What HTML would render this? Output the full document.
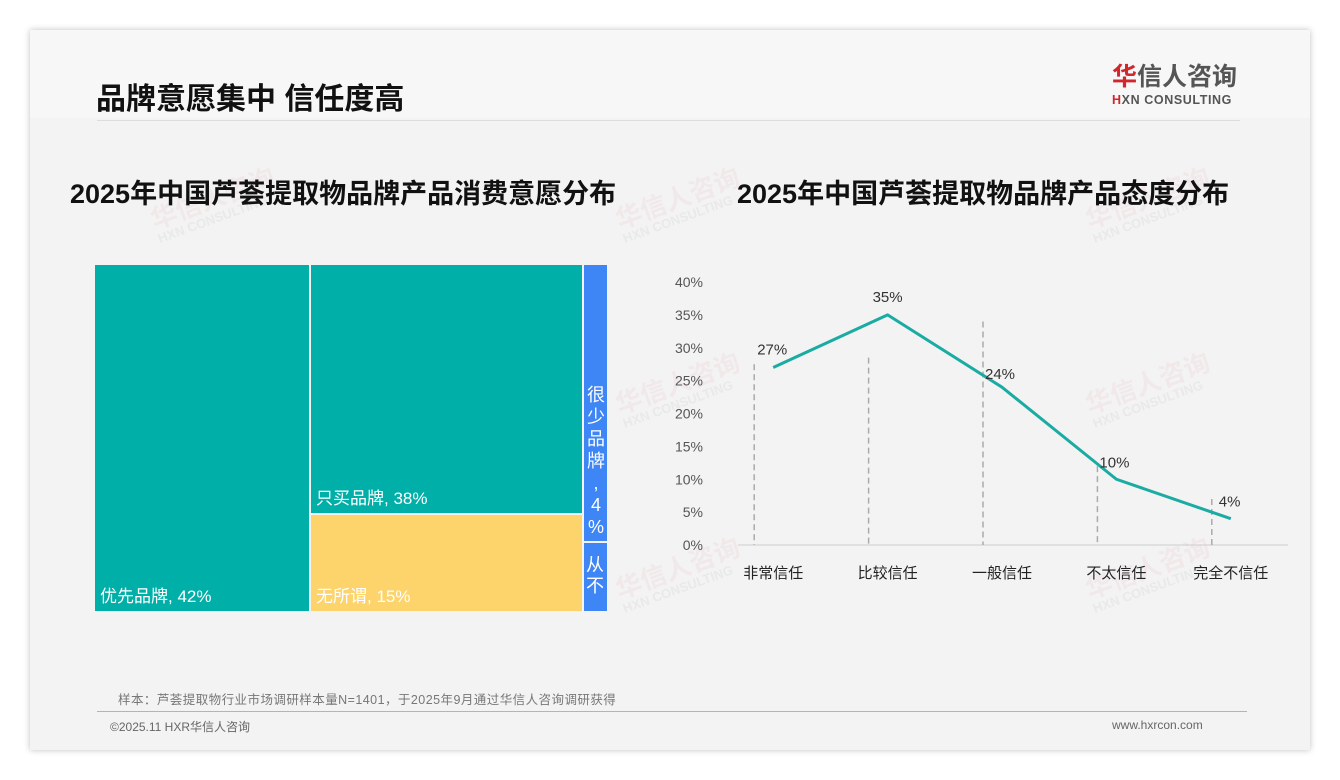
<!DOCTYPE html>
<html><head><meta charset="utf-8"><style>
body{margin:0;width:1340px;height:780px;background:#fff;font-family:"Liberation Sans","Noto Sans CJK SC",sans-serif;position:relative;overflow:hidden}
.card{position:absolute;left:30px;top:30px;width:1280px;height:720px;background:#f3f3f3;box-shadow:0 0 6px rgba(0,0,0,.25)}
.abs{position:absolute}
.wm{position:absolute;color:rgba(220,120,120,.08);font-size:26px;font-weight:bold;transform:rotate(-20deg);white-space:nowrap;line-height:1}
.wm small{display:block;font-size:13px;color:rgba(150,150,150,.10)}
</style></head><body>
<div class="card">
 <div class="abs" style="left:0;top:0;width:1280px;height:88px;background:#f7f7f7"></div>
</div>
<div class="abs" style="left:96px;top:74px;font-size:30px;font-weight:bold;color:#111">品牌意愿集中 信任度高</div>
<div class="abs" style="left:97px;top:120px;width:1143px;height:1px;background:#ddd"></div>
<div class="abs" style="left:1112px;top:62px;text-align:left">
 <div style="font-size:25px;font-weight:bold;color:#555;letter-spacing:0px;line-height:30px"><span style="color:#d0262c">华</span>信人咨询</div>
 <div style="font-size:12.5px;font-weight:bold;color:#555;line-height:16px;letter-spacing:0.6px"><span style="color:#d0262c">H</span>XN CONSULTING</div>
</div>

<div class="wm" style="left:150px;top:185px">华信人咨询<small>HXN CONSULTING</small></div>
<div class="wm" style="left:615px;top:185px">华信人咨询<small>HXN CONSULTING</small></div>
<div class="wm" style="left:1085px;top:185px">华信人咨询<small>HXN CONSULTING</small></div>
<div class="wm" style="left:615px;top:370px">华信人咨询<small>HXN CONSULTING</small></div>
<div class="wm" style="left:1085px;top:370px">华信人咨询<small>HXN CONSULTING</small></div>
<div class="wm" style="left:615px;top:555px">华信人咨询<small>HXN CONSULTING</small></div>
<div class="wm" style="left:1085px;top:555px">华信人咨询<small>HXN CONSULTING</small></div>

<div class="abs" style="left:70px;top:172px;font-size:27px;font-weight:bold;color:#111">2025年中国芦荟提取物品牌产品消费意愿分布</div>
<div class="abs" style="left:737px;top:172px;font-size:27px;font-weight:bold;color:#111">2025年中国芦荟提取物品牌产品态度分布</div>

<div>
 <div class="abs" style="left:95px;top:265px;width:214px;height:346px;background:#00b0a8"><span style="position:absolute;left:5px;bottom:4px;color:#fff;font-size:17px">优先品牌, 42%</span></div>
 <div class="abs" style="left:311px;top:265px;width:271px;height:248px;background:#00b0a8"><span style="position:absolute;left:5px;bottom:4px;color:#fff;font-size:17px">只买品牌, 38%</span></div>
 <div class="abs" style="left:311px;top:515px;width:271px;height:96px;background:#fdd36b"><span style="position:absolute;left:5px;bottom:4px;color:#fff;font-size:17px">无所谓, 15%</span></div>
 <div class="abs" style="left:584px;top:265px;width:23px;height:276px;background:#3e86f5"><span style="position:absolute;left:2px;bottom:3px;color:#fff;font-size:18px;line-height:22px;width:20px;text-align:center">很<br>少<br>品<br>牌<br>,<br>4<br>%</span></div>
 <div class="abs" style="left:584px;top:543px;width:23px;height:68px;background:#3e86f5"><span style="position:absolute;left:2px;top:12px;color:#fff;font-size:18px;line-height:21px">从<br>不</span></div>
</div>

<svg class="abs" style="left:0;top:0" width="1340" height="780" font-family="Liberation Sans, Noto Sans CJK SC, sans-serif">
<g id="lc"></g>
</svg>

<div class="abs" style="left:118px;top:689px;font-size:12.5px;color:#777;letter-spacing:0.45px">样本：芦荟提取物行业市场调研样本量N=1401，于2025年9月通过华信人咨询调研获得</div>
<div class="abs" style="left:97px;top:711px;width:1150px;height:1px;background:#9bb8de"></div>
<div class="abs" style="left:110px;top:718px;font-size:12px;color:#666">©2025.11 HXR华信人咨询</div>
<div class="abs" style="left:1112px;top:718px;font-size:12px;color:#666">www.hxrcon.com</div>

<script>
const categories=["非常信任","比较信任","一般信任","不太信任","完全不信任"];
const values=[27,35,24,10,4];
const yTicks=[0,5,10,15,20,25,30,35,40];
const dashTops=[27.5,28.5,34,12,7];
const NS="http://www.w3.org/2000/svg";
const g=document.getElementById('lc');
const x0=716,x1=1288,y0=545,yTop=282;
const step=(1288-716)/5;
function xc(i){return x0+step*(i+0.5);}
function yv(v){return y0-(v/40)*(y0-yTop);}
function mk(t,a){const e=document.createElementNS(NS,t);for(const k in a)e.setAttribute(k,a[k]);g.appendChild(e);return e;}
yTicks.forEach(t=>{const e=mk('text',{x:703,y:yv(t)+5,'text-anchor':'end','font-size':14,fill:'#555'});e.textContent=t+'%';

});
const ax=mk('line',{x1:738,x2:x1,y1:y0,y2:y0,stroke:'#ccc','stroke-width':1});


categories.forEach((c,i)=>{
 const dx=xc(i)-19;
 const d=mk('line',{x1:dx,x2:dx,y1:yv(dashTops[i]),y2:y0,stroke:'#aaa','stroke-width':1.5,'stroke-dasharray':'6,4'});
 
 
 const t=mk('text',{x:xc(i),y:578,'text-anchor':'middle','font-size':15,fill:'#222'});t.textContent=c;
 
 
});
const pts=values.map((v,i)=>xc(i)+','+yv(v)).join(' ');
const pl=mk('polyline',{points:pts,fill:'none',stroke:'#1aaba3','stroke-width':3,'stroke-linejoin':'round'});


values.forEach((v,i)=>{
 const t=mk('text',{x:i==1?xc(i):xc(i)-17,y:yv(v)-(i==1?13:12),'text-anchor':i==1?'middle':'start','font-size':15,fill:'#333'});
 if(i==0){t.setAttribute('y',yv(v)-13);t.setAttribute('x',xc(i)-16);}
 if(i==2){t.setAttribute('y',yv(v)-8);}
 if(i==3){t.setAttribute('y',yv(v)-12);}
 if(i==4){t.setAttribute('x',xc(i)-12);t.setAttribute('y',yv(v)-12);}
 t.textContent=v+'%';
 
 
});
</script>
</body></html>
